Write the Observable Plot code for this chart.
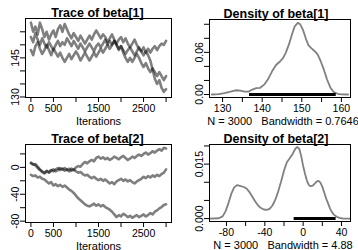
<!DOCTYPE html>
<html><head><meta charset="utf-8">
<script src="https://cdn.jsdelivr.net/npm/d3@7"></script>
<script src="https://cdn.jsdelivr.net/npm/@observablehq/plot@0.6"></script>
<style>
html,body{margin:0;padding:0;background:#fff;}
#wrap{position:relative;width:358px;height:250px;overflow:hidden;background:#fff;}
#wrap svg{position:absolute;}
#wrap svg text{white-space:pre;}
</style></head><body><div id="wrap"></div>
<script>
// ---------- data ----------
const iterations = [0,50,100,150,200,250,300,350,400,450,500,550,600,650,700,750,800,850,900,950,
  1000,1050,1100,1150,1200,1250,1300,1350,1400,1450,1500,1550,1600,1650,1700,1750,1800,1850,1900,1950,
  2000,2050,2100,2150,2200,2250,2300,2350,2400,2450,2500,2550,2600,2650,2700,2750,2800,2850,2900,2950,3000];

const beta1ChainA = [158.5,155,157,154,158.5,156,153,155,152,154,155.5,153,156,157.5,155,158,156,154,152.5,154.5,
  153,151.5,153.5,152,150.5,152,153.5,152,154,155.5,154,152.5,154,153,151,152.5,154,152,150.5,152,
  153,151,152.5,150.5,149,150.5,152,150,148.5,147.5,149,147,148.5,147,148.5,149.5,148,149.5,150.5,150,151.5];
const beta1ChainB = [153,151,154.5,152,150,152.5,150.5,149,151,149.5,148,150,151.5,149.5,151,150,152.5,151,149.5,151.5,
  150,148.5,150.5,149,147.5,149,150.5,149,147.5,149.5,150.5,149,150.5,152,150,151.5,150,151.5,150,148.5,
  149.5,147,145,143.5,145,143.5,145,146.5,145,143,141.5,143,141,139.5,141,139.5,138,139.5,138,136.5,138];
const beta1ChainC = [148,146,149.5,151,148.5,146.5,148,150,148,146,148.5,147,145.5,147,145,143.5,145,146.5,144.5,146,
  147.5,146,144,145.5,147,145.5,144,145.5,147,145.5,147,148.5,147,148.5,150,148.5,150,151.5,150,148,
  149.5,148,146.5,148,149,147.5,146,147.5,149,147.5,146,147.5,146,144,140.5,137,135,136.5,133.5,132,133];

const beta2Chain1 = [6,4,5,1,-3,-6,-8,-5,-7,-4,-6,-3,-1,-4,-2,-5,-3,-6,-2,-4,
  0,2,1,5,8,6,9,11,9,14,16,13,15,12,14,11,13,16,14,12,
  15,17,14,11,13,16,14,17,19,17,20,22,19,21,24,22,25,27,25,29,28];
const beta2Chain2 = [7,5,3,-1,-4,-7,-9,-6,-8,-5,-3,-6,-4,-1,-3,-1,-4,-2,-5,-3,
  -6,-8,-7,-10,-12,-11,-14,-16,-14,-17,-19,-17,-20,-18,-21,-24,-22,-25,-21,-19,
  -17,-20,-18,-21,-19,-22,-24,-21,-19,-17,-14,-16,-13,-15,-12,-14,-11,-13,-10,-8,-3];
const beta2Chain3 = [-11,-13,-12,-15,-14,-17,-18,-21,-24,-22,-27,-25,-28,-26,-29,-27,-30,-33,-35,-38,
  -42,-46,-49,-52,-55,-57,-58,-56,-54,-57,-55,-58,-56,-59,-61,-63,-66,-70,-74,-71,
  -73,-69,-71,-74,-72,-75,-73,-71,-74,-72,-70,-73,-71,-68,-70,-66,-64,-61,-59,-56,-55];

const dens1X = [127.3,129,130.5,132,133.3,134.5,135.5,136.5,137.5,138.5,139.5,140.5,141.5,142.5,143.5,144.5,145.3,146,146.8,147.5,148.2,149,149.6,150.3,151,151.7,152.4,153.2,154,154.8,155.6,156.4,157.2,158,159,160,161.7];
const dens1Y = [0,0.0005,0.002,0.004,0.006,0.0055,0.004,0.004,0.007,0.009,0.0095,0.014,0.022,0.033,0.042,0.047,0.052,0.06,0.072,0.085,0.097,0.102,0.1,0.092,0.08,0.07,0.066,0.062,0.057,0.047,0.035,0.021,0.01,0.004,0.001,0.0002,0];
const dens2X = [-97,-88,-84,-81,-78,-75,-72,-69,-66,-62,-59,-56,-53,-50,-47,-44,-41,-38,-35,-32,-29,-26,-23,-20,-17,-14,-11,-8,-6,-4,-2,0,2,4,6,8,10,12,14,16,18,20,22,24,26,28,30,32,35,38,42,49];
const dens2Y = [0,0.0001,0.0006,0.002,0.0042,0.0068,0.0086,0.0092,0.009,0.0087,0.0083,0.0073,0.006,0.0047,0.0036,0.0029,0.0025,0.0024,0.0027,0.0036,0.0052,0.0075,0.0102,0.0132,0.0155,0.0166,0.0178,0.0193,0.0197,0.0192,0.0172,0.0145,0.0123,0.0104,0.0092,0.0089,0.0091,0.0096,0.0102,0.0104,0.0099,0.0088,0.0072,0.0055,0.0042,0.0028,0.0018,0.0011,0.0005,0.0002,0,0];
const rug1 = [136.8, 158.7];
const rug2 = [-9.4, 34.4];

const iterTicks = [0,500,1000,1500,2000,2500,3000];
const iterTickText = ["0","500","","1500","","2500",""];
const beta1Ticks = [130,135,140,145,150,155];
const beta1TickText = ["130","","","145","",""];
const beta2Ticks = [-80,-60,-40,-20,0,20];
const beta2TickText = ["-80","","-40","","0",""];
const dens1XTicks = [130,135,140,145,150,155,160];
const dens1XTickText = ["130","","140","","150","","160"];
const dens1YTicks = [0,0.02,0.04,0.06,0.08,0.10];
const dens1YTickText = ["0.00","","","0.06","",""];
const dens2XTicks = [-80,-60,-40,-20,0,20,40];
const dens2XTickText = ["-80","","-40","","0","","40"];
const dens2YTicks = [0,0.005,0.010,0.015,0.020];
const dens2YTickText = ["0.000","","","0.015",""];

const titles = ["Trace of beta[1]","Density of beta[1]","Trace of beta[2]","Density of beta[2]"];
const subs = ["Iterations","N = 3000   Bandwidth = 0.7646","Iterations","N = 3000   Bandwidth = 4.88"];

// ---------- drawing ----------
const FONT = "'Liberation Sans', Arial, Helvetica, sans-serif";
const wrap = document.getElementById("wrap");

function lookup(ticks, text) { const m = new Map(ticks.map((t, i) => [t, text[i]])); return d => m.get(d) ?? ""; }

function panel(o) {
  const svg = Plot.plot({
    width: 179, height: 125,
    marginTop: o.mt, marginBottom: o.mb, marginLeft: o.ml, marginRight: o.mr,
    x: {domain: o.xDomain}, y: {domain: o.yDomain},
    style: {fontFamily: FONT, fontSize: "10px", background: "transparent", overflow: "visible", color: "black"},
    marks: [
      ...o.marks,
      Plot.frame({stroke: "black", strokeWidth: 1}),
      Plot.axisX({ticks: o.xTicks, tickFormat: lookup(o.xTicks, o.xText), tickSize: 5, tickPadding: 2, label: null, fontSize: 10.5}),
      Plot.axisY({ticks: o.yTicks, tickFormat: lookup(o.yTicks, o.yText), tickSize: 5, tickPadding: 2, tickRotate: -90, label: null, fontSize: 10.5}),
      Plot.text([o.title], {frameAnchor: "top", lineAnchor: "bottom", dy: -2, dx: o.tdx, fontWeight: "bold", fontSize: 12.5}),
      Plot.text([o.sub], {frameAnchor: "bottom", lineAnchor: "bottom", dy: 27, dx: o.sdx, fontSize: 11})
    ]
  });
  svg.style.left = o.left + "px";
  svg.style.top = o.top + "px";
  wrap.appendChild(svg);
}

function traceRows(chains) {
  return chains.flatMap((vals, k) => vals.map((v, i) => ({iter: iterations[i], value: v, chain: k})));
}
const traceStyle = {x: "iter", y: "value", z: "chain", stroke: "black", strokeOpacity: 0.5, strokeWidth: 2.6, strokeLinejoin: "round"};

panel({left: 0, top: 0, mt: 18, mb: 28, ml: 25, mr: 8,
  xDomain: [-120, 3120], yDomain: [129.8, 160.1],
  xTicks: iterTicks, xText: iterTickText, yTicks: beta1Ticks, yText: beta1TickText,
  title: titles[0], sub: subs[0], tdx: -1, sdx: 0,
  marks: [Plot.line(traceRows([beta1ChainA, beta1ChainB, beta1ChainC]), traceStyle)]});

panel({left: 179, top: 0, mt: 19, mb: 28, ml: 30, mr: 8,
  xDomain: [126.7, 162.3], yDomain: [-0.0043, 0.1068],
  xTicks: dens1XTicks, xText: dens1XTickText, yTicks: dens1YTicks, yText: dens1YTickText,
  title: titles[1], sub: subs[1], tdx: -4, sdx: 3,
  marks: [
    Plot.line(dens1X.map((x, i) => ({x, y: dens1Y[i]})), {x: "x", y: "y", stroke: "#808080", strokeWidth: 1.8}),
    Plot.ruleY([{y: 0, x1: rug1[0], x2: rug1[1]}], {y: "y", x1: "x1", x2: "x2", stroke: "black", strokeWidth: 3})
  ]});

panel({left: 0, top: 125, mt: 19, mb: 28, ml: 25, mr: 8,
  xDomain: [-120, 3120], yDomain: [-82, 34],
  xTicks: iterTicks, xText: iterTickText, yTicks: beta2Ticks, yText: beta2TickText,
  title: titles[2], sub: subs[2], tdx: -1, sdx: 0,
  marks: [Plot.line(traceRows([beta2Chain1, beta2Chain2, beta2Chain3]), traceStyle)]});

panel({left: 179, top: 125, mt: 19, mb: 29, ml: 30, mr: 8,
  xDomain: [-97.7, 49.4], yDomain: [-0.0008, 0.0204],
  xTicks: dens2XTicks, xText: dens2XTickText, yTicks: dens2YTicks, yText: dens2YTickText,
  title: titles[3], sub: subs[3], tdx: -4, sdx: 3,
  marks: [
    Plot.line(dens2X.map((x, i) => ({x, y: dens2Y[i]})), {x: "x", y: "y", stroke: "#808080", strokeWidth: 1.8}),
    Plot.ruleY([{y: 0, x1: rug2[0], x2: rug2[1]}], {y: "y", x1: "x1", x2: "x2", stroke: "black", strokeWidth: 3})
  ]});
</script></body></html>
